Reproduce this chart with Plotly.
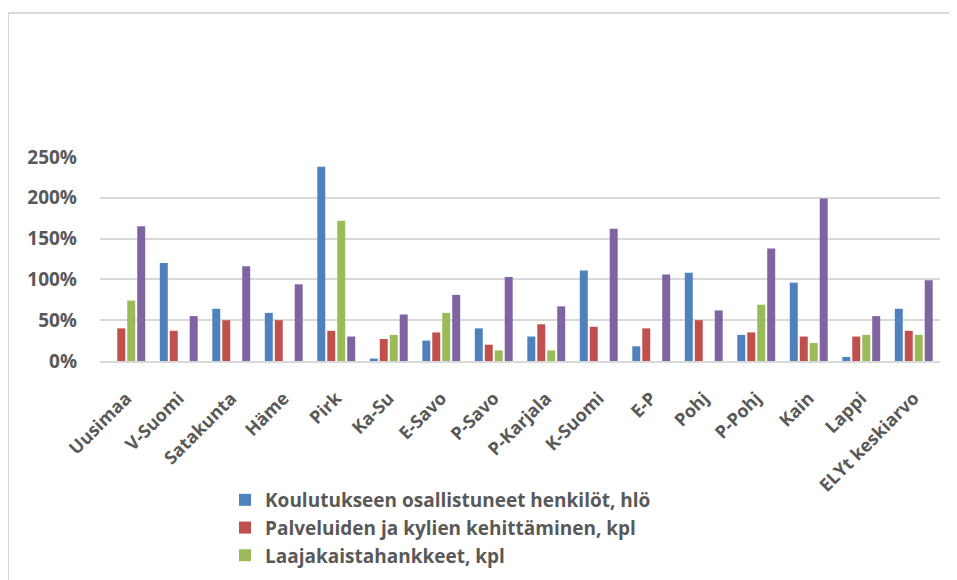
import plotly.graph_objects as go

categories = ["Uusimaa", "V-Suomi", "Satakunta", "Häme", "Pirk", "Ka-Su", "E-Savo", "P-Savo",
              "P-Karjala", "K-Suomi", "E-P", "Pohj", "P-Pohj", "Kain", "Lappi", "ELYt keskiarvo"]

koulutus = [0, 120, 64, 59, 238, 3, 25, 40, 30, 111, 18, 108, 32, 96, 5, 64]
palvelut = [40, 37, 50, 50, 37, 27, 35, 20, 45, 42, 40, 50, 35, 30, 30, 37]
laajakaista = [74, 0, 0, 0, 172, 32, 59, 13, 13, 0, 0, 0, 69, 22, 32, 32]
neljas = [165, 55, 116, 94, 30, 57, 81, 103, 67, 162, 106, 62, 138, 199, 55, 99]

series_names = ["Koulutukseen osallistuneet henkilöt, hlö",
                "Palveluiden ja kylien kehittäminen, kpl",
                "Laajakaistahankkeet, kpl",
                "Muut hankkeet"]
series_values = [koulutus, palvelut, laajakaista, neljas]
colors = ["#4F81BD", "#C0504D", "#9BBB59", "#8064A2"]
show_leg = [True, True, True, False]

ytick_vals = [0, 50, 100, 150, 200, 250]
ytick_text = ["0%", "50%", "100%", "150%", "200%", "250%"]

fig = go.Figure()
for name, vals, col, sl in zip(series_names, series_values, colors, show_leg):
    fig.add_trace(go.Bar(x=categories, y=vals, name=name, marker_color=col,
                         marker_line_width=0, showlegend=sl))

W, H = 957, 580
OFF = 8  # page body offset
L, T = 100 - OFF, 157 - OFF
R = W - (940 - OFF)
B = H - (361 - OFF)
pw, ph = W - L - R, H - T - B

def px_x(px):
    return (px - OFF - L) / pw

def px_y(py):
    return (H - B - (py - OFF)) / ph

font_color = "#595959"
fam = "Open Sans, Noto Sans, sans-serif"

fig.update_layout(
    width=W, height=H,
    margin=dict(l=L, r=R, t=T, b=B, autoexpand=False),
    paper_bgcolor="white", plot_bgcolor="white",
    barmode="group", bargap=0.24, bargroupgap=0.2,
    font=dict(family=fam, color=font_color, size=18),
    xaxis=dict(tickangle=-45, showgrid=False, showline=True, linecolor="#D9D9D9",
               linewidth=1.5, ticks="", tickfont=dict(size=18, weight="bold", color=font_color),
               ticklabelstandoff=18),
    yaxis=dict(range=[0, 250], tickvals=ytick_vals, ticktext=ytick_text, showgrid=True,
               gridcolor="#D9D9D9", gridwidth=1.5, zeroline=False, showline=False, ticks="",
               tickfont=dict(size=19, weight="bold", color=font_color), ticklabelstandoff=22),
    legend=dict(x=px_x(225), y=px_y(481), xanchor="left", yanchor="top",
                font=dict(size=19, weight="bold", color=font_color),
                bgcolor="rgba(0,0,0,0)", itemwidth=30, tracegroupgap=0),
    shapes=[
        dict(type="line", xref="paper", yref="paper", x0=px_x(8), x1=px_x(965), y0=px_y(13), y1=px_y(13),
             line=dict(color="#D9D9D9", width=2)),
        dict(type="line", xref="paper", yref="paper", x0=px_x(8), x1=px_x(8), y0=px_y(13), y1=px_y(590),
             line=dict(color="#D9D9D9", width=2)),
    ],
)

fig.write_html("out.html")
